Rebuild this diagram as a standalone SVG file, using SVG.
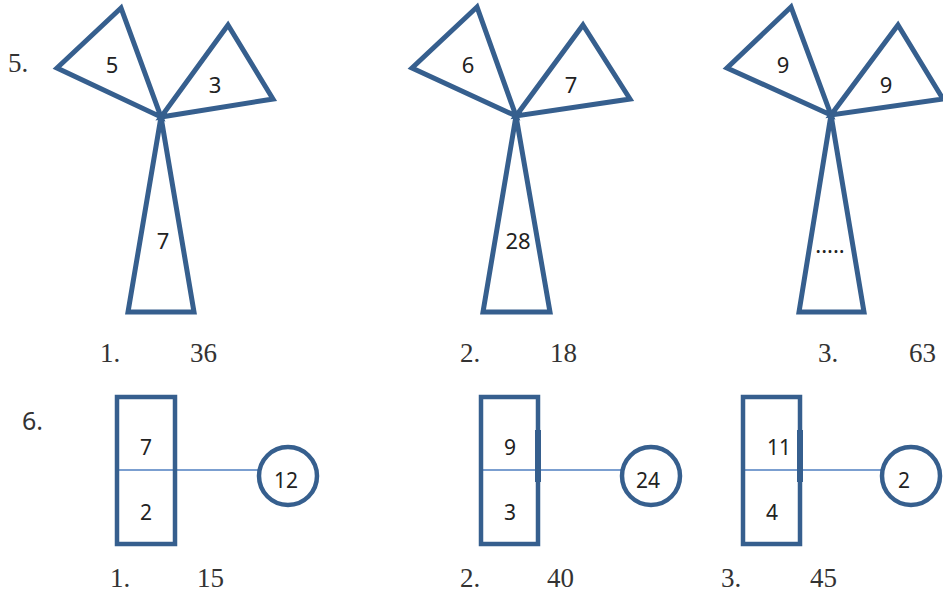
<svg xmlns="http://www.w3.org/2000/svg" width="943" height="593" viewBox="0 0 943 593">
<style>
.sh{fill:none;stroke:#365f8e;stroke-width:5;stroke-linejoin:miter}
.bx{fill:none;stroke:#365f8e;stroke-width:4.5}
.cn{stroke:#4f7fc0;stroke-width:1.6;fill:none}
.n{font-family:"Noto Sans","Open Sans",sans-serif;font-size:22px;fill:#222;text-anchor:middle}
.s{font-family:"Liberation Serif","Times New Roman",serif;font-size:27px;fill:#333}
</style>
<rect width="943" height="593" fill="#fff"/>
<text class="s" x="8" y="72">5.</text>
<text class="s" x="22" y="430" style="font-family:'Noto Sans',sans-serif;font-size:25px">6.</text>
<g id="fig5-1">
<polygon class="sh" points="121,8 57,68 161,117"/>
<polygon class="sh" points="228,25 273,99 161,117"/>
<polygon class="sh" points="161,117 128,312 194,312"/>
<text class="n" x="112" y="73">5</text>
<text class="n" x="215" y="93">3</text>
<text class="n" x="163" y="249">7</text>
</g>
<g id="fig5-2">
<polygon class="sh" points="477,7 412,68 516,116"/>
<polygon class="sh" points="583,25 630,99 516,116"/>
<polygon class="sh" points="516,116 483,312 550,312"/>
<text class="n" x="468" y="73">6</text>
<text class="n" x="571" y="93">7</text>
<text class="n" x="518" y="249">28</text>
</g>
<g id="fig5-3">
<polygon class="sh" points="791,7 727,68 831,115"/>
<polygon class="sh" points="898,25 943,99 831,115"/>
<polygon class="sh" points="831,115 799,312 864,312"/>
<text class="n" x="783" y="73">9</text>
<text class="n" x="886" y="93">9</text>
<text class="n" x="830" y="253">.....</text>
</g>
<g id="labels5">
<text class="s" x="100" y="362">1.</text>
<text class="s" x="190" y="362">36</text>
<text class="s" x="460" y="362">2.</text>
<text class="s" x="550" y="362">18</text>
<text class="s" x="818" y="362">3.</text>
<text class="s" x="909" y="362">63</text>
</g>
<g id="connectors">
<line class="cn" x1="117" y1="470" x2="259" y2="470"/>
<line class="cn" x1="481" y1="470" x2="623" y2="470"/>
<line class="cn" x1="741" y1="470" x2="883" y2="470"/>
</g>
<g id="box6-1">
<rect class="bx" x="117" y="397" width="58" height="147"/>
<text class="n" x="146" y="455" style="font-size:21px">7</text>
<text class="n" x="146" y="520" style="font-size:21px">2</text>
</g>
<g id="circle6-1">
<circle class="bx" cx="288" cy="476" r="29"/>
<text class="n" x="286" y="488" style="font-size:21px">12</text>
</g>
<g id="box6-2">
<rect class="bx" x="481" y="397" width="57" height="147"/>
<rect x="535" y="430" width="6" height="52" fill="#365f8e"/>
<text class="n" x="510" y="455" style="font-size:21px">9</text>
<text class="n" x="510" y="520" style="font-size:21px">3</text>
</g>
<g id="circle6-2">
<circle class="bx" cx="651" cy="476" r="29"/>
<text class="n" x="648" y="488" style="font-size:21px">24</text>
</g>
<g id="box6-3">
<rect class="bx" x="743" y="397" width="57" height="147"/>
<rect x="797" y="430" width="6" height="52" fill="#365f8e"/>
<text class="n" x="779" y="455" style="font-size:21px">11</text>
<text class="n" x="772" y="520" style="font-size:21px">4</text>
</g>
<g id="circle6-3">
<circle class="bx" cx="911" cy="476" r="29"/>
<text class="n" x="904" y="488" style="font-size:21px">2</text>
</g>
<g id="labels6">
<text class="s" x="110" y="587">1.</text>
<text class="s" x="197" y="587">15</text>
<text class="s" x="460" y="587">2.</text>
<text class="s" x="547" y="587">40</text>
<text class="s" x="721" y="587">3.</text>
<text class="s" x="810" y="587">45</text>
</g>
</svg>
